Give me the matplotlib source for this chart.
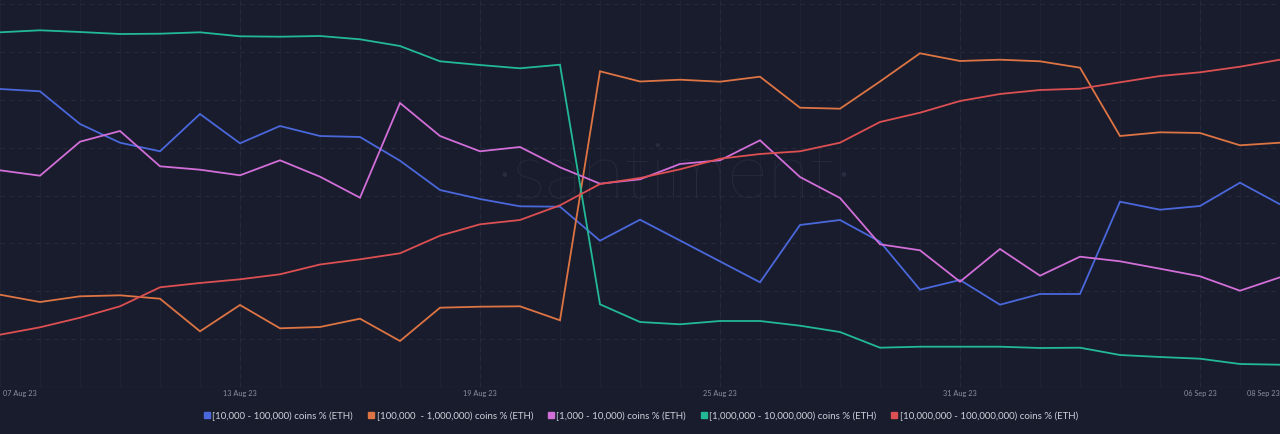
import numpy as np
import matplotlib
matplotlib.use("Agg")
import matplotlib.pyplot as plt
import matplotlib.dates as mdates
from matplotlib.lines import Line2D
import matplotlib.transforms as mtransforms
import datetime as dt

# ---- data (relative level of each holder-band share, daily, 07 Aug 23 -> 08 Sep 23) ----
dates = [dt.date(2023, 8, 7) + dt.timedelta(days=i) for i in range(33)]

band_10k_100k = [298, 295.7, 263, 244.3, 235.7, 273, 243.7, 261, 251, 250, 226.3, 197, 188,
                 180.7, 180.3, 146.3, 167.3, 146.5, 125.6, 104.7, 162, 167, 145.3, 97.3, 107,
                 82.3, 93, 93, 185.3, 177.3, 181, 204.3, 182.7]
band_100k_1m = [92.3, 85, 90.7, 91.7, 88.3, 55.7, 82, 58.7, 60, 68.3, 46, 79.3, 80.3, 80.7,
                66.7, 315.7, 305.5, 307.3, 305.3, 310.3, 279.3, 278.3, 305.5, 333.7, 326,
                327.3, 325.7, 319.3, 251, 254.7, 254, 241.7, 244.3]
band_1k_10k = [216.7, 211.3, 245.3, 256, 220.7, 217.3, 211.7, 226.7, 210.3, 189.3, 284, 251,
               235.7, 240, 219.7, 203.3, 207.7, 223, 226.7, 246.7, 210, 189, 142.7, 136.7,
               105.3, 138, 111.3, 130.3, 125.7, 118.3, 110.7, 96.3, 109.7]
band_1m_10m = [354.7, 356.7, 355, 353, 353.3, 354.7, 350.7, 350.3, 351, 347.7, 341, 325.7,
               322, 318.7, 322.3, 82.7, 65, 62.7, 66, 66, 61.3, 55, 39.3, 40.3, 40.3, 40.3,
               39, 39.3, 32, 30, 28.3, 23, 22.3]
band_10m_100m = [52.3, 59.7, 69.3, 80.7, 99.7, 104, 107.7, 112.7, 122.5, 127.7, 133.7, 151.3,
                 162.7, 167, 181.7, 203, 209, 217.7, 228.3, 233, 235.7, 244.3, 265, 274.3, 286,
                 293, 297, 298.3, 304.7, 311, 314.7, 320.3, 327.3]

labels = ["[10,000 - 100,000) coins % (ETH)",
          "[100,000  - 1,000,000) coins % (ETH)",
          "[1,000 - 10,000) coins % (ETH)",
          "[1,000,000 - 10,000,000) coins % (ETH)",
          "[10,000,000 - 100,000,000) coins % (ETH)"]
series = [band_10k_100k, band_100k_1m, band_1k_10k, band_1m_10m, band_10m_100m]
colors = ["#4a68dc", "#dd7444", "#d16ed8", "#22b996", "#dc4f52"]

tick_dates = [dt.date(2023, 8, 7), dt.date(2023, 8, 13), dt.date(2023, 8, 19),
              dt.date(2023, 8, 25), dt.date(2023, 8, 31), dt.date(2023, 9, 6),
              dt.date(2023, 9, 8)]
tick_labels = ["07 Aug 23", "13 Aug 23", "19 Aug 23", "25 Aug 23", "31 Aug 23",
               "06 Sep 23", "08 Sep 23"]

BG = "#191c2c"
plt.rcParams['font.family'] = ['Lato', 'DejaVu Sans']

fig = plt.figure(figsize=(12.8, 4.34), dpi=100, facecolor=BG)
ax = fig.add_axes([0, 1 - 387 / 434, 1, 387 / 434], facecolor=BG)

x = mdates.date2num(dates)
ax.set_xlim(x[0], x[-1])
ax.set_ylim(0, 387)

# faint daily vertical stripes
for xi in x:
    ax.axvline(xi, color="#1e2233", lw=0.8, zorder=0)

# horizontal dashed grid
for gy in np.arange(383, 0, -47.9):
    ax.axhline(gy, color="#262a3b", lw=0.8, ls=(0, (4, 4)), zorder=0.5)
# vertical dashed grid at ticks
tx = mdates.date2num(tick_dates)
for t in tx[1:-1]:
    ax.axvline(t, color="#262a3b", lw=0.8, ls=(0, (4, 4)), zorder=0.5)

# watermark
ax.text(0.527, 0.545, "·santiment·", transform=ax.transAxes, ha="center", va="center",
        fontsize=56, color="#282c40", fontweight="light", family=["Lato", "DejaVu Sans"],
        zorder=1)

for s, c in zip(series, colors):
    ax.plot(x, s, color=c, lw=1.3, zorder=3, solid_joinstyle="miter")

for sp in ax.spines.values():
    sp.set_visible(False)
ax.axhline(0, color="#23273a", lw=1, zorder=0.6)

ax.set_yticks([])
ax.set_xticks(tx)
ax.set_xticklabels(tick_labels)
ax.tick_params(axis="x", length=0, pad=2.5, labelsize=5.3, labelcolor="#8b8fa3")
tl = ax.get_xticklabels()
tl[0].set_ha("left")
tl[0].set_transform(tl[0].get_transform() +
                    mtransforms.ScaledTranslation(3 / 100, 0, fig.dpi_scale_trans))
tl[-1].set_ha("right")

handles = [Line2D([], [], marker="s", ls="none", color=c, markersize=5) for c in colors]
leg = fig.legend(handles, labels, loc="center", bbox_to_anchor=(0.5, 1 - 416 / 434),
                 ncol=5, frameon=False, fontsize=7.0, labelcolor="#cdd0db",
                 handletextpad=0.1, columnspacing=1.3, handlelength=1.0)

fig.savefig("out.png", dpi=100, facecolor=BG)
